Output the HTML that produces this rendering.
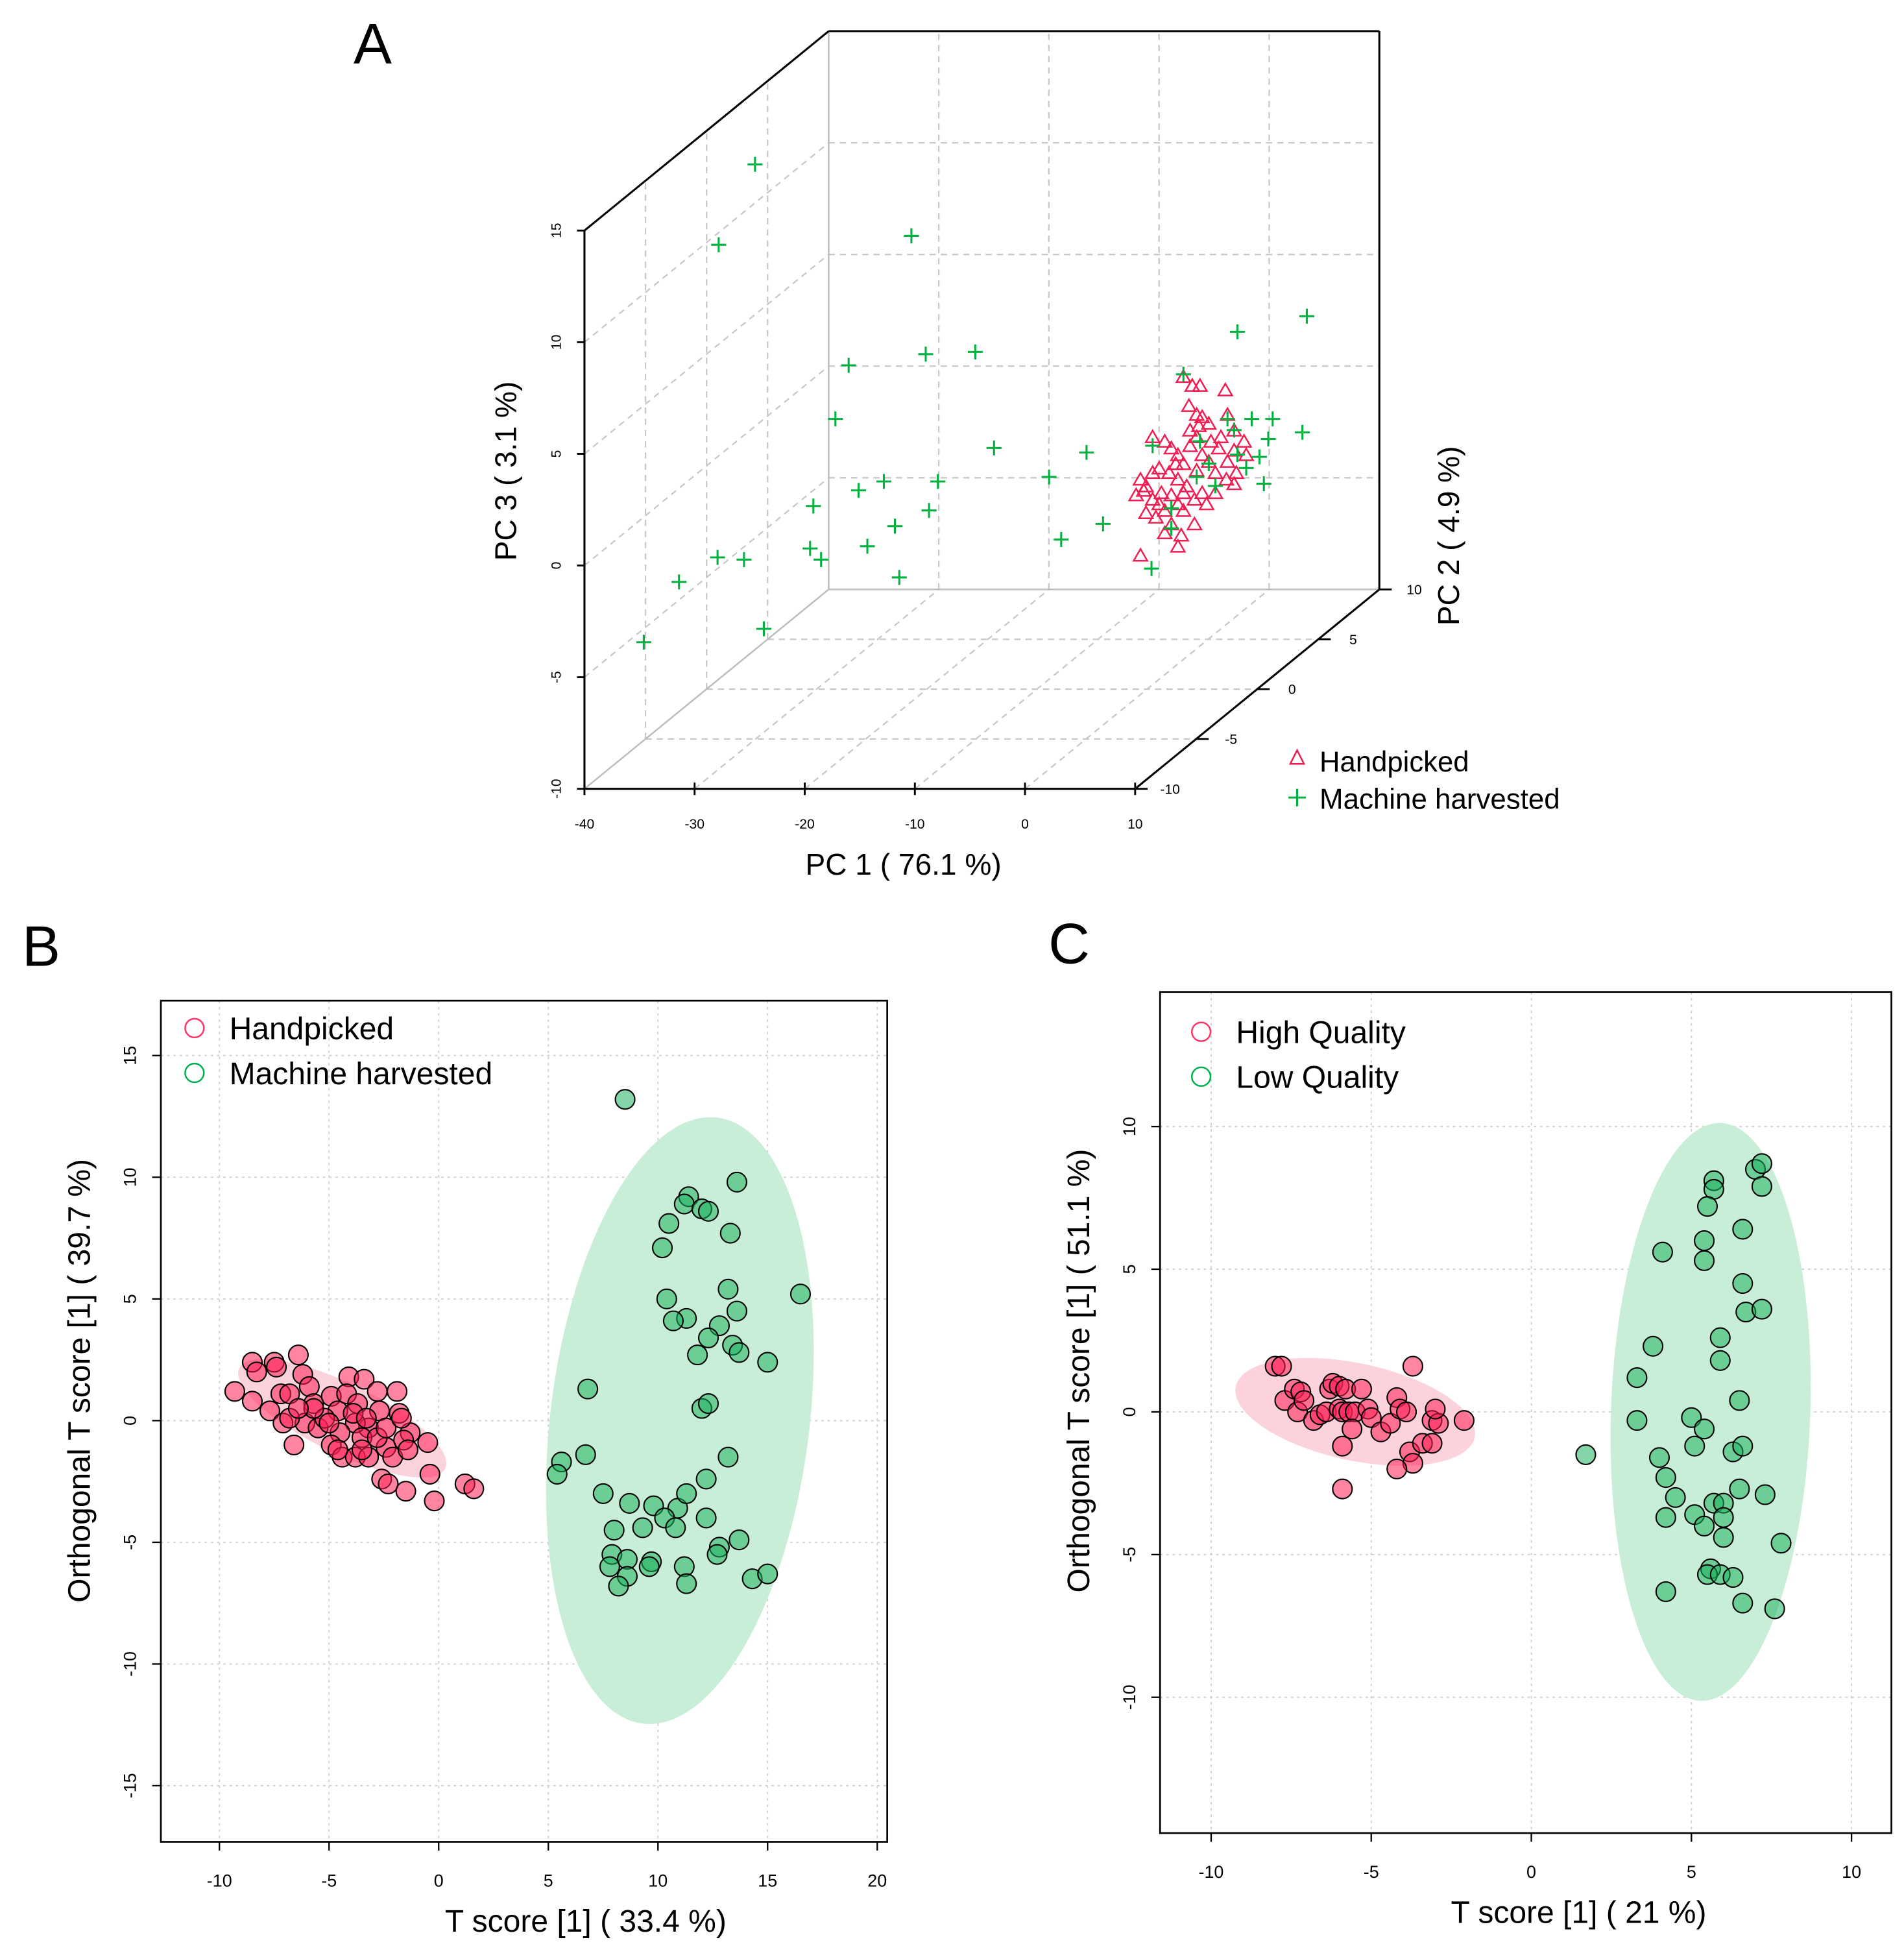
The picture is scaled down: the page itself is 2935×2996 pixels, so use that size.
<!DOCTYPE html>
<html><head><meta charset="utf-8"><style>
html,body{margin:0;padding:0;background:#fff}
svg{display:block}
text{font-family:"Liberation Sans",Arial,sans-serif}
</style></head><body>
<svg id="fig" xmlns="http://www.w3.org/2000/svg" width="2935" height="2996" viewBox="0 0 1528 1560">
<rect width="1528" height="1560" fill="#fff"/>
<g id="pA"></g>
<g id="pB"></g>
<g id="pC"></g>
</svg>
<script>
// ---------- Panel A data ----------
const aHandPc1=[3.3,4.1,4.8,7.1,3.8,4.5,5.0,5.6,7.3,7.9,6.7,0.5,1.6,2.2,2.8,3.9,4.5,5.0,3.3,1.1,2.0,2.8,3.6,4.5,5.6,6.2,7.3,8.1,9.0,8.8,7.9,-0.6,-0.3,0.5,1.3,2.2,2.8,3.3,4.3,5.0,1.6,0.8,2.2,3.1,2.8,1.6,-0.6,-0.1,-1.0,7.2,7.9,6.5,3.9,4.7,5.8,2.6,0.5,1.1,-0.1,5.4,6.2,3.3,4.3];
const aHandPc3=[4.0,3.6,3.6,3.4,2.7,2.3,2.2,1.9,2.3,1.6,1.3,1.3,1.1,0.8,0.5,0.9,1.3,0.5,0.1,-0.1,-0.3,-0.6,-0.9,-0.2,0.2,-0.3,0.2,-0.3,0.5,1.1,0.7,-0.6,-1.1,-1.5,-1.2,-1.3,-1.7,-2.0,-1.5,-1.2,-2.0,-2.3,-2.6,-3.1,-3.6,-3.0,-4.0,-0.9,-1.3,-0.6,-0.8,0.8,1.6,1.8,1.1,0.1,-0.3,-1.7,-2.1,-1.7,-1.2,-1.2,-2.6];
const aMachPc1=[-35.6,-38.9,-21.4,-27.1,-20.1,-15.6,-28.3,-13.9,-5.5,-8.9,-23.9,-19.0,-26.2,-30.3,-19.8,-22.9,-4.0,-7.8,-25.4,-30.6,-29.6,-39.0,-36.6,-42.5,-22.5,-34.8,-45.7,3.3,8.2,14.5,11.4,9.5,7.3,14.1,11.0,7.9,10.2,10.6,9.0,6.2,4.5,0.5,2.2,0.4,2.2,4.8,5.6,8.2];
const aMachPc3=[13.5,9.9,10.3,4.5,5.0,5.1,2.1,0.8,0.6,-0.5,-0.7,-0.7,-1.1,-1.8,-2.0,-2.7,-2.6,-3.3,-3.6,-3.7,-4.2,-4.1,-4.2,-5.2,-5.0,-7.3,-7.9,4.1,6.0,6.7,2.1,2.1,2.1,1.5,1.2,1.6,0.4,-0.8,-0.1,-0.9,-0.5,0.9,-2.8,-4.6,-1.9,1.1,0.1,0.5];
const aPc1Ticks=[-40,-30,-20,-10,0,10];
const aPc2Ticks=[-10,-5,0,5,10];
const aPc3Ticks=[-10,-5,0,5,10,15];

// ---------- Panel B data ----------
const bHandX=[-9.3,-8.5,-8.5,-8.3,-7.5,-7.4,-6.4,-6.2,-7.7,-7.1,-6.6,-7.2,-6.8,-5.9,-5.7,-6.1,-5.5,-4.9,-4.6,-4.1,-3.4,-4.2,-3.7,-2.8,-1.9,-1.8,-2.7,-3.2,-3.8,-4.5,-4.9,-4.4,-3.8,-3.2,-2.4,-2.1,-1.3,-1.6,-1.4,-0.5,-0.4,-2.6,-2.3,-1.5,-0.2,1.2,1.6,-5.2,-3.5,-3.9,-5.7,-5.0,-3.3,-2.8,-6.8,-6.4,-4.6,-3.5,-2.4,-1.7];
const bHandY=[1.2,0.8,2.4,2.0,2.4,2.2,2.7,1.9,0.4,-0.1,-1.0,1.1,1.1,1.4,0.7,-0.1,-0.3,1.0,0.4,1.8,1.7,1.1,0.7,1.2,1.2,0.3,0.4,-0.3,-0.1,-0.5,-1.0,-1.5,-1.5,-1.5,-1.1,-1.5,-0.5,-0.8,-1.2,-0.9,-2.2,-2.4,-2.6,-2.9,-3.3,-2.6,-2.8,0.1,-0.7,0.3,0.5,-0.1,0.1,-0.7,0.1,0.5,-1.2,-1.2,-0.3,0.1];
const bMachX=[8.5,13.6,11.4,11.2,12.0,12.3,10.5,13.3,10.2,13.2,16.5,10.4,13.6,11.3,10.7,12.8,12.3,13.4,13.7,11.8,15.0,6.8,12.0,12.3,6.7,5.6,5.4,13.2,12.2,7.5,8.7,9.8,10.9,11.3,10.3,12.2,10.8,9.3,8.0,13.7,12.8,12.7,7.9,8.6,9.7,9.6,7.8,11.2,8.6,14.3,15.0,8.2,11.3];
const bMachY=[13.2,9.8,9.2,8.9,8.7,8.6,8.1,7.7,7.1,5.4,5.2,5.0,4.5,4.2,4.1,3.9,3.4,3.1,2.8,2.7,2.4,1.3,0.5,0.7,-1.4,-1.7,-2.2,-1.5,-2.4,-3.0,-3.4,-3.5,-3.6,-3.0,-4.0,-4.0,-4.4,-4.4,-4.5,-4.9,-5.2,-5.5,-5.5,-5.7,-5.8,-6.0,-6.0,-6.0,-6.4,-6.5,-6.3,-6.8,-6.7];
const bXTicks=[-10,-5,0,5,10,15,20];
const bYTicks=[-15,-10,-5,0,5,10,15];

// ---------- Panel C data ----------
const cHighX=[-8.0,-7.8,-7.7,-7.4,-7.2,-7.3,-7.1,-6.8,-6.6,-6.3,-6.2,-6.0,-5.8,-6.4,-6.0,-5.9,-5.7,-5.3,-5.5,-5.6,-5.9,-5.9,-5.1,-5.0,-4.7,-4.4,-4.2,-4.1,-3.9,-3.7,-3.8,-3.7,-4.2,-3.4,-3.1,-3.1,-2.9,-3.0,-2.1];
const cHighY=[1.6,1.6,0.4,0.8,0.7,0.0,0.4,-0.3,-0.1,0.8,1.0,0.9,0.8,0.0,0.1,0.0,0.0,0.8,0.0,-0.6,-1.2,-2.7,0.1,-0.2,-0.7,-0.4,0.5,0.1,0.0,1.6,-1.4,-1.8,-2.0,-1.1,-1.1,-0.3,-0.4,0.1,-0.3];
const cLowX=[1.7,3.3,3.3,3.8,4.1,4.0,4.2,4.5,4.2,4.2,5.0,5.1,5.4,5.1,5.4,5.7,5.7,5.5,5.4,5.4,5.9,5.9,5.7,6.0,6.0,6.0,5.6,5.5,5.9,6.3,6.3,6.6,6.5,6.5,6.6,6.6,6.7,6.6,7.0,7.2,7.2,7.2,7.3,7.8,7.6];
const cLowY=[-1.5,1.2,-0.3,2.3,5.6,-1.6,-2.3,-3.0,-3.7,-6.3,-0.2,-1.2,-0.6,-3.6,-4.0,8.1,7.8,7.2,6.0,5.3,2.6,1.8,-3.2,-3.2,-3.7,-4.4,-5.5,-5.7,-5.7,-5.8,-1.4,-1.2,-2.7,0.4,6.4,4.5,3.5,-6.7,8.5,8.7,7.9,3.6,-2.9,-4.6,-6.9];
const cXTicks=[-10,-5,0,5,10];
const cYTicks=[-10,-5,0,5,10];

const NS="http://www.w3.org/2000/svg";
function mk(parent,tag,attrs,txt){const e=document.createElementNS(NS,tag);for(const k in attrs)e.setAttribute(k,attrs[k]);if(txt!==undefined)e.textContent=txt;parent.appendChild(e);return e;}

// ================= Panel A =================
(function(){
const g=document.getElementById('pA');
const X0=469,Y0=633,W=442,H=448; // front face
const DX=196,DY=-160;
function proj(p1,p2,p3){const sx=X0+(p1+40)/50*W+(p2+10)/20*DX;const sy=Y0-(p3+10)/25*H+(p2+10)/20*DY;return [sx,sy];}
const grid={stroke:"#c8c8c8","stroke-width":1.2,"stroke-dasharray":"5,4",fill:"none"};
// back wall grid (p2=10)
aPc1Ticks.slice(1,-1).forEach(v=>{const a=proj(v,10,-10),b=proj(v,10,15);const l=mk(g,'line',Object.assign({x1:a[0],y1:a[1],x2:b[0],y2:b[1]},grid));});
aPc3Ticks.slice(1,-1).forEach(v=>{const a=proj(-40,10,v),b=proj(10,10,v);const l=mk(g,'line',Object.assign({x1:a[0],y1:a[1],x2:b[0],y2:b[1]},grid));});
// floor grid (p3=-10)
aPc1Ticks.slice(1,-1).forEach(v=>{const a=proj(v,-10,-10),b=proj(v,10,-10);const l=mk(g,'line',Object.assign({x1:a[0],y1:a[1],x2:b[0],y2:b[1]},grid));});
aPc2Ticks.slice(1,-1).forEach(v=>{const a=proj(-40,v,-10),b=proj(10,v,-10);const l=mk(g,'line',Object.assign({x1:a[0],y1:a[1],x2:b[0],y2:b[1]},grid));});
// left wall grid (p1=-40)
aPc3Ticks.slice(1,-1).forEach(v=>{const a=proj(-40,-10,v),b=proj(-40,10,v);const l=mk(g,'line',Object.assign({x1:a[0],y1:a[1],x2:b[0],y2:b[1]},grid));});
aPc2Ticks.slice(1,-1).forEach(v=>{const a=proj(-40,v,-10),b=proj(-40,v,15);const l=mk(g,'line',Object.assign({x1:a[0],y1:a[1],x2:b[0],y2:b[1]},grid));});
// box edges
const gray={stroke:"#bdbdbd","stroke-width":1.3};
[[[-40,10,-10],[-40,10,15]],[[-40,-10,-10],[-40,10,-10]],[[-40,10,-10],[10,10,-10]]].forEach(e=>{const a=proj(...e[0]),b=proj(...e[1]);const l=mk(g,'line',Object.assign({x1:a[0],y1:a[1],x2:b[0],y2:b[1]},gray));});
const blk={stroke:"#000","stroke-width":1.6};
[[[-40,-10,-10],[-40,-10,15]],[[-40,-10,15],[-40,10,15]],[[-40,10,15],[10,10,15]],[[10,10,15],[10,10,-10]],[[-40,-10,-10],[10,-10,-10]],[[10,-10,-10],[10,10,-10]]].forEach(e=>{const a=proj(...e[0]),b=proj(...e[1]);const l=mk(g,'line',Object.assign({x1:a[0],y1:a[1],x2:b[0],y2:b[1]},blk));});
// ticks
aPc1Ticks.forEach(v=>{const a=proj(v,-10,-10);const t=mk(g,'line',{x1:a[0],y1:a[1]-5,x2:a[0],y2:a[1]+5,stroke:"#000","stroke-width":1.5});
const l=mk(g,'text',{x:a[0],y:a[1]+32,"font-size":11,"text-anchor":"middle"},String(v));});
aPc3Ticks.forEach(v=>{const a=proj(-40,-10,v);const t=mk(g,'line',{x1:a[0]-6,y1:a[1],x2:a[0],y2:a[1],stroke:"#000","stroke-width":1.5});
const l=mk(g,'text',{x:0,y:0,"font-size":11,"text-anchor":"middle",transform:`translate(${a[0]-19},${a[1]}) rotate(-90)`},String(v));});
aPc2Ticks.forEach(v=>{const a=proj(10,v,-10);const t=mk(g,'line',{x1:a[0],y1:a[1],x2:a[0]+10,y2:a[1],stroke:"#000","stroke-width":1.5});
const l=mk(g,'text',{x:a[0]+28,y:a[1]+4,"font-size":11,"text-anchor":"middle"},String(v));});
// points (plotted at mid depth)
aHandPc1.forEach((v,i)=>{const p=proj(v,0,aHandPc3[i]);const t=mk(g,'polygon',{points:`${p[0]},${p[1]-5} ${p[0]-5.5},${p[1]+4.5} ${p[0]+5.5},${p[1]+4.5}`,fill:"none",stroke:"#ee1d52","stroke-width":1.3});});
aMachPc1.forEach((v,i)=>{const p=proj(v,0,aMachPc3[i]);const t=mk(g,'path',{d:`M${p[0]-6},${p[1]}h12M${p[0]},${p[1]-6}v12`,stroke:"#00b140","stroke-width":1.6,fill:"none"});});
// titles
let t=mk(g,'text',{x:299,y:51,"font-size":46,"text-anchor":"middle"},"A");
t=mk(g,'text',{x:725,y:702,"font-size":24,"text-anchor":"middle"},"PC 1 ( 76.1 %)");
t=mk(g,'text',{x:0,y:0,"font-size":24,"text-anchor":"middle",transform:"translate(414,378) rotate(-90)"},"PC 3 ( 3.1 %)");
t=mk(g,'text',{x:0,y:0,"font-size":24,"text-anchor":"middle",transform:"translate(1171,430) rotate(-90)"},"PC 2 ( 4.9 %)");
// legend
const lg=mk(g,'g',{});
t=mk(lg,'polygon',{points:"1041,602 1035.5,613 1046.5,613",fill:"none",stroke:"#ee1d52","stroke-width":1.3});
t=mk(lg,'text',{x:1059,y:619,"font-size":23,textLength:120,lengthAdjust:"spacingAndGlyphs"},"Handpicked");
t=mk(lg,'path',{d:"M1034,640h14M1041,633v14",stroke:"#00b140","stroke-width":1.6});
t=mk(lg,'text',{x:1059,y:649,"font-size":23,textLength:193,lengthAdjust:"spacingAndGlyphs"},"Machine harvested");
})();

// ================= 2D panels =================
function scatter(cfg){
const g=document.getElementById(cfg.id);
const sx=v=>cfg.x0+v*cfg.kx, sy=v=>cfg.y0-v*cfg.ky;
const dot={stroke:"#d0d0d0","stroke-width":1,"stroke-dasharray":"2,3"};
cfg.xt.forEach(v=>{const l=mk(g,'line',Object.assign({x1:sx(v),x2:sx(v),y1:cfg.box[1],y2:cfg.box[3]},dot));});
cfg.yt.forEach(v=>{const l=mk(g,'line',Object.assign({y1:sy(v),y2:sy(v),x1:cfg.box[0],x2:cfg.box[2]},dot));});
cfg.ell.forEach(e=>{const el=mk(g,'ellipse',{cx:sx(e.cx),cy:sy(e.cy),rx:e.rx,ry:e.ry,fill:e.fill,transform:`rotate(${e.rot} ${sx(e.cx)} ${sy(e.cy)})`});});
cfg.series.forEach(s=>{s.x.forEach((v,i)=>{const c=mk(g,'circle',{cx:sx(v),cy:sy(s.y[i]),r:7.8,fill:s.fill,"fill-opacity":0.55,stroke:"#000","stroke-width":1.1});});});
const b=cfg.box;
let r=mk(g,'rect',{x:b[0],y:b[1],width:b[2]-b[0],height:b[3]-b[1],fill:"none",stroke:"#000","stroke-width":1.4});
cfg.xt.forEach(v=>{let t=mk(g,'line',{x1:sx(v),x2:sx(v),y1:b[3],y2:b[3]+7,stroke:"#000","stroke-width":1.2});
t=mk(g,'text',{x:sx(v),y:b[3]+36,"font-size":14,"text-anchor":"middle"},String(v));});
cfg.yt.forEach(v=>{let t=mk(g,'line',{x1:b[0]-7,x2:b[0],y1:sy(v),y2:sy(v),stroke:"#000","stroke-width":1.2});
t=mk(g,'text',{x:0,y:0,"font-size":14,"text-anchor":"middle",transform:`translate(${b[0]-20},${sy(v)}) rotate(-90)`},String(v));});
let t=mk(g,'text',{x:cfg.lab[0],y:cfg.lab[1],"font-size":46,"text-anchor":"middle"},cfg.label);
t=mk(g,'text',{x:cfg.xtitle[0],y:cfg.xtitle[1],"font-size":25,"text-anchor":"middle"},cfg.xtitle[2]);
t=mk(g,'text',{x:0,y:0,"font-size":25,"text-anchor":"middle",transform:`translate(${cfg.ytitle[0]},${cfg.ytitle[1]}) rotate(-90)`},cfg.ytitle[2]);
cfg.leg.forEach((L,i)=>{const yy=cfg.legY+i*36;let c=mk(g,'circle',{cx:cfg.legX,cy:yy,r:7.5,fill:"none",stroke:L.c,"stroke-width":1.3});
c=mk(g,'text',{x:cfg.legX+28,y:yy+9,"font-size":25},L.t);});
}
scatter({id:'pB',x0:352,kx:17.6,y0:1140,ky:19.53,box:[129,803,712,1478],xt:bXTicks,yt:bYTicks,
label:"B",lab:[33,775],xtitle:[470,1550,"T score [1] ( 33.4 %)"],ytitle:[72,1108,"Orthogonal T score [1] ( 39.7 %)"],
legX:156,legY:825,leg:[{c:"#ff3366",t:"Handpicked"},{c:"#00b050",t:"Machine harvested"}],
ell:[{name:'handpicked-ellipse',cx:-4.4,cy:0.1,rx:92,ry:28,rot:26,fill:"#fcd3dc"},{name:'machine-ellipse',cx:11.0,cy:0,rx:104,ry:245,rot:7,fill:"#c9eed8"}],
series:[{name:'handpicked-point',x:bHandX,y:bHandY,fill:"#ff2055"},{name:'machine-harvested-point',x:bMachX,y:bMachY,fill:"#1fb35e"}]});
scatter({id:'pC',x0:1229,kx:25.7,y0:1133,ky:22.9,box:[931,796,1518,1471],xt:cXTicks,yt:cYTicks,
label:"C",lab:[858,773],xtitle:[1267,1543,"T score [1] ( 21 %)"],ytitle:[874,1100,"Orthogonal T score [1] ( 51.1 %)"],
legX:964,legY:828,leg:[{c:"#ff3366",t:"High  Quality"},{c:"#00b050",t:"Low Quality"}],
ell:[{name:'high-quality-ellipse',cx:-5.5,cy:0,rx:98,ry:39,rot:12,fill:"#fcd3dc"},{name:'low-quality-ellipse',cx:5.6,cy:0,rx:80,ry:232,rot:2,fill:"#c9eed8"}],
series:[{name:'high-quality-point',x:cHighX,y:cHighY,fill:"#ff2055"},{name:'low-quality-point',x:cLowX,y:cLowY,fill:"#1fb35e"}]});
</script>
</body></html>
